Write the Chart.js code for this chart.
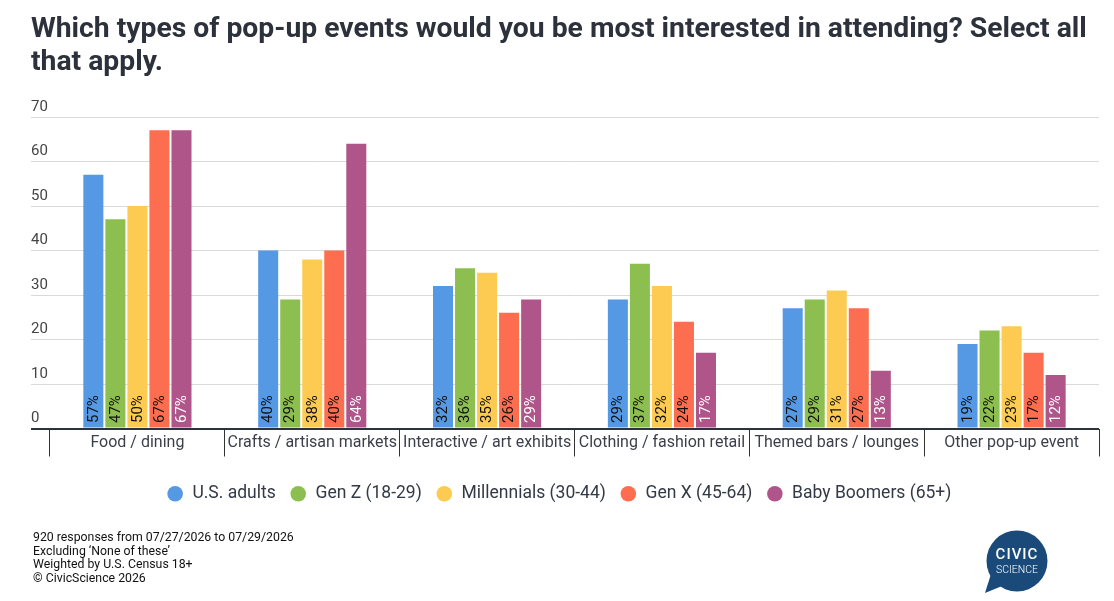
<!DOCTYPE html>
<html>
<head>
<meta charset="utf-8">
<script src="https://cdn.jsdelivr.net/npm/chart.js@4.4.1/dist/chart.umd.min.js"></script>
<style>
  html, body { margin: 0; padding: 0; background: #ffffff; }
  #wrap { position: relative; width: 1114px; height: 601px; overflow: hidden; }
  #c { position: absolute; left: 0; top: 0; }
  #footer { position: absolute; left: 33px; top: 531px; font-family: Roboto, sans-serif; font-size: 12.3px; line-height: 13.7px; color: #111; }
  #logo { position: absolute; left: 975px; top: 522px; }
</style>
</head>
<body>
<div id="wrap">
  <canvas id="c" width="1114" height="601"></canvas>
  <div id="footer">
    <div>920 responses from 07/27/2026 to 07/29/2026</div>
    <div>Excluding ‘None of these’</div>
    <div>Weighted by U.S. Census 18+</div>
    <div>© CivicScience 2026</div>
  </div>
  <svg id="logo" width="90" height="79" viewBox="0 0 90 79">
    <path d="M 16 52 L 10 71 L 32 62 Z" fill="#194a7a"/>
    <circle cx="42" cy="39" r="30.5" fill="#194a7a"/>
    <text x="42" y="37" text-anchor="middle" font-family="Roboto, sans-serif" font-size="15" font-weight="500" letter-spacing="1" fill="#ffffff">CIVIC</text>
    <text x="42" y="51" text-anchor="middle" font-family="Roboto, sans-serif" font-size="10.5" font-weight="300" fill="#ffffff">SCIENCE</text>
  </svg>
</div>
<script>
const categories = ['Food / dining', 'Crafts / artisan markets', 'Interactive / art exhibits', 'Clothing / fashion retail', 'Themed bars / lounges', 'Other pop-up event'];
const seriesNames = ['U.S. adults', 'Gen Z (18-29)', 'Millennials (30-44)', 'Gen X (45-64)', 'Baby Boomers (65+)'];
const usAdults   = [57, 40, 32, 29, 27, 19];
const genZ       = [47, 29, 36, 37, 29, 22];
const millennials= [50, 38, 35, 32, 31, 23];
const genX       = [67, 40, 26, 24, 27, 17];
const boomers    = [67, 64, 29, 17, 13, 12];
const yTicks     = [0, 10, 20, 30, 40, 50, 60, 70];

const colors = ['#5598e3', '#8cbf50', '#fdcb52', '#fd6e50', '#af558a'];
const labelColors = ['#111111', '#111111', '#111111', '#111111', '#ffffff'];
const seriesValues = [usAdults, genZ, millennials, genX, boomers];

const barLabels = {
  id: 'barLabels',
  afterDatasetsDraw(chart) {
    const ctx = chart.ctx;
    ctx.save();
    ctx.font = '15px Roboto, sans-serif';
    ctx.textAlign = 'left';
    ctx.textBaseline = 'middle';
    chart.data.datasets.forEach((ds, di) => {
      const meta = chart.getDatasetMeta(di);
      meta.data.forEach((bar, i) => {
        ctx.save();
        ctx.translate(bar.x, bar.base - 4.5);
        ctx.rotate(-Math.PI / 2);
        ctx.fillStyle = labelColors[di];
        ctx.fillText(ds.data[i] + '%', 0, 0.5);
        ctx.restore();
      });
    });
    ctx.restore();
  }
};

const legendShift = {
  id: 'legendShift',
  afterLayout(chart) {
    if (chart.legend) {
      chart.legend.left -= 6;
      chart.legend.right -= 6;
    }
  }
};

new Chart(document.getElementById('c'), {
  type: 'bar',
  data: {
    labels: categories,
    datasets: seriesNames.map((name, k) => ({
      label: name,
      data: seriesValues[k],
      backgroundColor: colors[k],
      borderWidth: 0,
      categoryPercentage: 0.63,
      barPercentage: 0.909
    }))
  },
  options: {
    responsive: false,
    animation: false,
    devicePixelRatio: 1,
    layout: { padding: { left: 31, right: 15, top: 0, bottom: 88.5 } },
    plugins: {
      title: {
        display: true,
        align: 'start',
        text: ['Which types of pop-up events would you be most interested in attending? Select all', 'that apply.'],
        color: '#2c313b',
        font: { family: 'Roboto', size: 28.3, weight: 'bold', lineHeight: '33px' },
        padding: { top: 13, bottom: 38 }
      },
      legend: {
        position: 'bottom',
        labels: {
          usePointStyle: true,
          pointStyle: 'circle',
          boxWidth: 17,
          boxHeight: 11,
          padding: 14,
          color: '#333a45',
          font: { family: 'Roboto', size: 17.5 }
        }
      },
      tooltip: { enabled: false }
    },
    scales: {
      x: {
        grid: { drawOnChartArea: false, drawTicks: true, tickLength: 28, color: '#333333', lineWidth: 1 },
        border: { display: false },
        ticks: { autoSkip: false, maxRotation: 0, minRotation: 0, padding: -23, color: '#3a3f4a', font: { family: 'Roboto', size: 16 } },
        afterFit(scale) { scale.height = 42.5; }
      },
      y: {
        min: 0,
        max: 70,
        afterBuildTicks(scale) { scale.ticks = yTicks.map(v => ({ value: v })); },
        grid: {
          color: (c) => (c.tick && c.tick.value === 0) ? '#2d3240' : '#d9d9d9',
          lineWidth: (c) => (c.tick && c.tick.value === 0) ? 2 : 1,
          tickLength: 19,
          drawTicks: true
        },
        border: { display: false },
        ticks: { crossAlign: 'far', padding: 0, labelOffset: -10, color: '#444444', font: { family: 'Roboto', size: 15 } },
        afterFit(scale) { scale.width = 19; }
      }
    }
  },
  plugins: [barLabels, legendShift]
});
</script>
</body>
</html>
